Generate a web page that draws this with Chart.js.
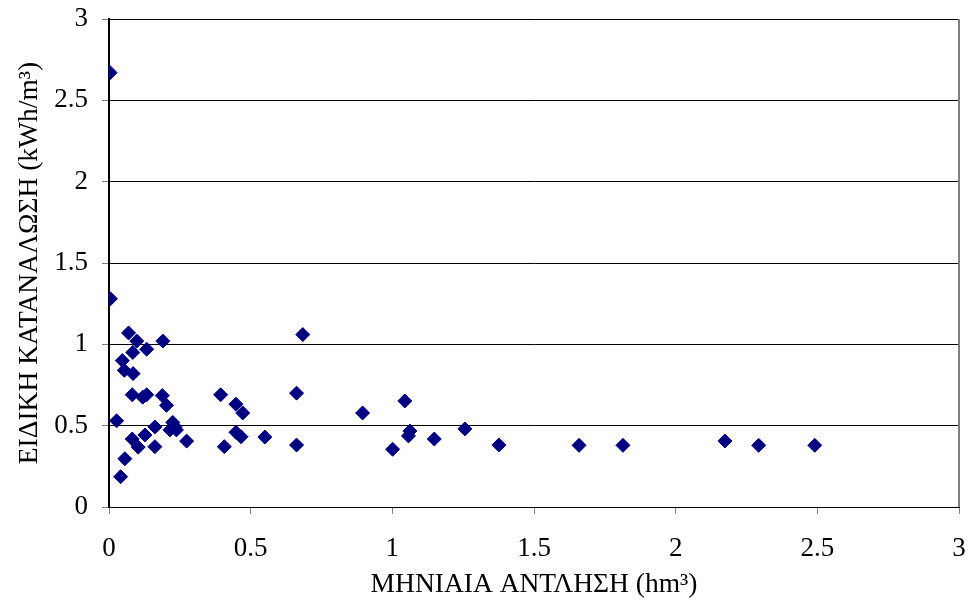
<!DOCTYPE html>
<html>
<head>
<meta charset="utf-8">
<script src="https://cdn.jsdelivr.net/npm/chart.js@4"></script>
<style>
  html, body { margin: 0; padding: 0; background: #fff; }
  #wrap { width: 972px; height: 608px; }
</style>
</head>
<body>
<div id="wrap"><canvas id="myChart" width="972" height="608"></canvas></div>
<script>
// monthly pumping (hm3) and specific consumption (kWh/m3)
const pumping = [
  0.004, 0.005, 0.069, 0.098, 0.190, 0.133, 0.084, 0.047, 0.054, 0.085,
  0.082, 0.119, 0.133, 0.188, 0.203, 0.394, 0.448, 0.472, 0.662, 0.684,
  0.027, 0.225, 0.233, 0.215, 0.238, 0.162, 0.127, 0.082, 0.103, 0.162,
  0.274, 0.407, 0.448, 0.466, 0.550, 0.662, 0.056, 0.041, 0.895, 1.044,
  1.062, 1.057, 1.001, 1.148, 1.256, 1.376, 1.659, 1.814, 2.174, 2.293,
  2.491
];
const consumption = [
  2.67, 1.28, 1.07, 1.02, 1.02, 0.97, 0.95, 0.90, 0.84, 0.82,
  0.69, 0.675, 0.69, 0.685, 0.625, 0.69, 0.632, 0.578, 0.70, 1.06,
  0.53, 0.52, 0.494, 0.474, 0.474, 0.492, 0.443, 0.418, 0.368, 0.371,
  0.405, 0.371, 0.459, 0.432, 0.43, 0.381, 0.297, 0.186, 0.578, 0.652,
  0.467, 0.437, 0.355, 0.418, 0.48, 0.381, 0.379, 0.379, 0.406, 0.379,
  0.379
];

const xTitle = "ΜΗΝΙΑΙΑ ΑΝΤΛΗΣΗ (hm³)";
const yTitle = "ΕΙΔΙΚΗ ΚΑΤΑΝΑΛΩΣΗ (kWh/m³)";

const points = pumping.map((x, i) => ({ x, y: consumption[i] }));

// plain number labels: 0, 0.5, 1, ...
const tickLabel = v => String(Math.round(v * 10) / 10);

// grey frame line on the right side of the plot
const rightBorder = {
  id: "rightBorder",
  afterDraw(chart) {
    const { ctx, chartArea } = chart;
    ctx.save();
    ctx.strokeStyle = "#808080";
    ctx.lineWidth = 2;
    ctx.beginPath();
    ctx.moveTo(chartArea.right, chartArea.top);
    ctx.lineTo(chartArea.right, chartArea.bottom);
    ctx.stroke();
    ctx.restore();
  }
};

const ctx = document.getElementById("myChart").getContext("2d");

new Chart(ctx, {
  type: "scatter",
  data: {
    datasets: [{
      data: points,
      backgroundColor: "#000080",
      borderColor: "#000080",
      pointStyle: "rectRot",
      pointRadius: 7,
      pointHoverRadius: 7
    }]
  },
  options: {
    responsive: false,
    animation: false,
    layout: { padding: { top: 19, right: 13, left: 0, bottom: 0 } },
    plugins: { legend: { display: false }, tooltip: { enabled: false } },
    scales: {
      x: {
        type: "linear",
        min: 0,
        max: 3,
        afterFit: s => {
          s.height = 101;
          s.paddingLeft = 0;
          s.paddingRight = 0;
        },
        ticks: {
          stepSize: 0.5,
          color: "#000",
          padding: 19,
          callback: tickLabel,
          font: { family: "Liberation Serif", size: 27 }
        },
        grid: {
          drawOnChartArea: false,
          drawTicks: true,
          tickLength: 7,
          tickColor: "#808080"
        },
        border: { color: "#000", width: 1 },
        title: {
          display: true,
          text: xTitle,
          color: "#000",
          font: { family: "Liberation Serif", size: 27.5 },
          padding: { top: 0, bottom: 7 }
        }
      },
      y: {
        type: "linear",
        min: 0,
        max: 3,
        afterFit: s => {
          s.width = 109;
          s.paddingTop = 0;
          s.paddingBottom = 0;
        },
        ticks: {
          stepSize: 0.5,
          color: "#000",
          padding: 14,
          callback: tickLabel,
          font: { family: "Liberation Serif", size: 27 }
        },
        grid: {
          color: "#000",
          lineWidth: 1,
          tickLength: 7,
          tickColor: "#808080"
        },
        border: { color: "#000", width: 2 },
        title: {
          display: true,
          text: yTitle,
          color: "#000",
          font: { family: "Liberation Serif", size: 27.5 },
          padding: { top: 13, bottom: 0 }
        }
      }
    }
  },
  plugins: [rightBorder]
});
</script>
</body>
</html>
